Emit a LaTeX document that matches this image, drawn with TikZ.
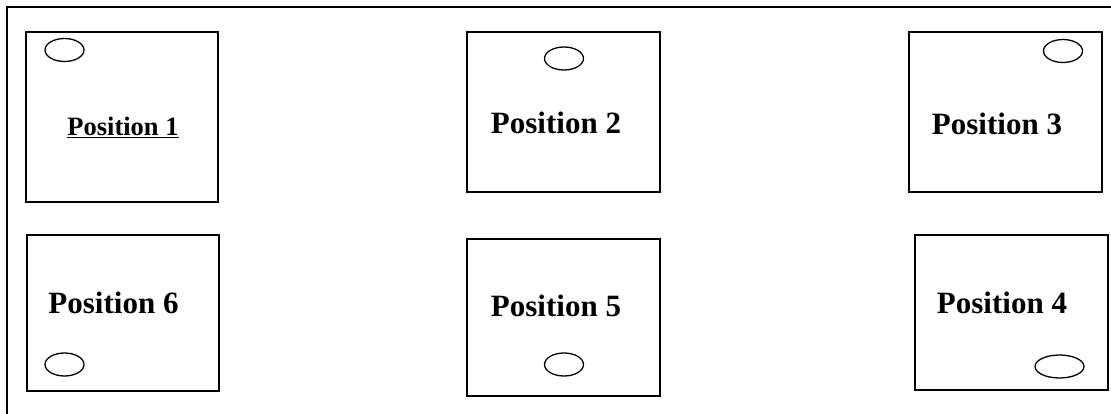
\documentclass[tikz,border=0pt]{standalone}
\usepackage{fontspec}
\setmainfont{Liberation Serif}
\usetikzlibrary{shapes.geometric}
\tikzset{
  posbox/.style={draw, line width=1.4pt, rectangle, inner sep=0pt},
  hole/.style={draw, line width=1.3pt, ellipse, inner sep=0pt, minimum width=39pt, minimum height=23pt},
  poslabel/.style={anchor=base, inner sep=0pt, font=\fontsize{31}{34}\selectfont\bfseries},
  smalllabel/.style={anchor=base, inner sep=0pt, font=\fontsize{26.5}{30}\selectfont\bfseries}
}
\begin{document}
\begin{tikzpicture}[x=1pt,y=-1pt]
\useasboundingbox (0,0) rectangle (1111,414);
% outer frame (only top and left edges visible)
\coordinate (fbl) at (7,414);
\coordinate (ftl) at (7,7);
\coordinate (ftr) at (1111,7);
\draw[line width=1.4pt] (fbl) -- (ftl) -- (ftr);

% boxes
\node[posbox, minimum width=192pt, minimum height=170pt] (b1) at (122,117) {};
\node[posbox, minimum width=193pt, minimum height=160pt] (b2) at (563.5,112) {};
\node[posbox, minimum width=193pt, minimum height=160pt] (b3) at (1005.5,112) {};
\node[posbox, minimum width=192pt, minimum height=156pt] (b6) at (123,313) {};
\node[posbox, minimum width=193pt, minimum height=157pt] (b5) at (563.5,317.5) {};
\node[posbox, minimum width=193pt, minimum height=155pt] (b4) at (1011.5,312.5) {};

% holes
\node[hole] (h1) at (64.5,50) {};
\node[hole] (h2) at (564,58.5) {};
\node[hole] (h3) at (1063,51) {};
\node[hole] (h6) at (64.5,364.5) {};
\node[hole] (h5) at (564,364.5) {};
\node[hole, minimum width=49pt] (h4) at (1059.5,366.5) {};

% labels
\node[smalllabel] (t1) at (123,136) {\underline{Position 1}};
\node[poslabel] (t2) at (556,134) {Position 2};
\node[poslabel] (t3) at (997,135) {Position 3};
\node[poslabel] (t6) at (113.5,313) {Position 6};
\node[poslabel] (t5) at (556,316) {Position 5};
\node[poslabel] (t4) at (1002,313) {Position 4};
\end{tikzpicture}
\end{document}
